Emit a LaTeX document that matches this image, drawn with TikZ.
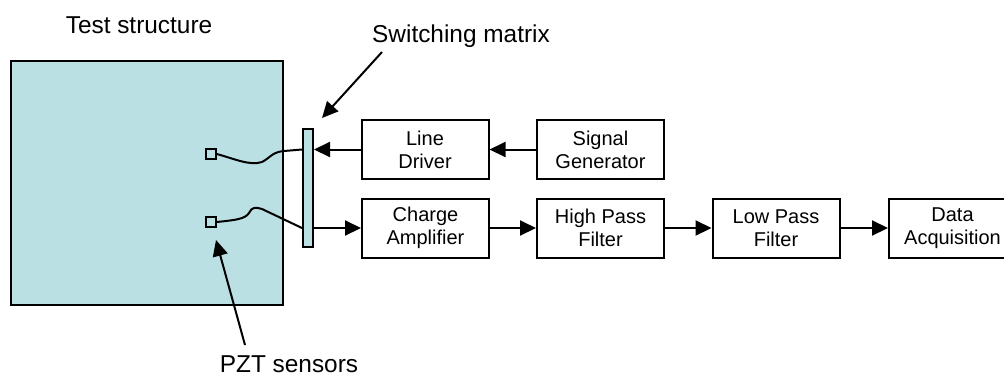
\documentclass[tikz,border=0pt]{standalone}
\usepackage{fontspec}
\setmainfont{Liberation Sans}
\usetikzlibrary{arrows.meta}
\definecolor{plate}{RGB}{187,224,227}
\begin{document}
\begin{tikzpicture}[x=0.5pt,y=-0.5pt,
  blk/.style={draw,line width=1pt,minimum width=63.5pt,minimum height=29.5pt,inner sep=0pt,align=center,font=\fontsize{10}{11.5}\selectfont},
  lbl/.style={anchor=base,inner sep=0pt,font=\fontsize{12.2}{14}\selectfont},
  conn/.style={line width=1pt,-{Triangle[length=8pt,width=7.5pt]}},
  wire/.style={line width=1pt},
  sens/.style={draw,fill=plate,line width=0.8pt,minimum size=5pt,inner sep=0pt}]
\useasboundingbox (0,0) rectangle (1004,376);
\node[draw,fill=plate,line width=1pt,minimum width=136pt,minimum height=122pt,inner sep=0pt] (plate) at (147,183) {};
\node[draw,fill=plate,line width=1pt,minimum width=5pt,minimum height=59pt,inner sep=0pt] (bar) at (308,188) {};
\node[sens] (s1) at (211,154) {};
\node[sens] (s2) at (211,222) {};
\node[blk] (ld) at (425,149.5) {Line\\Driver};
\node[blk] (sg) at (600.5,149.5) {Signal\\Generator};
\node[blk] (ca) at (425.5,228) {Charge\\Amplifier};
\node[blk] (hp) at (600.5,228) {High Pass\\Filter};
\node[blk] (lp) at (776,228) {Low Pass\\Filter};
\node[blk] (da) at (952.5,228) {Data\\Acquisition};
\node[lbl] (tl) at (139,33) {Test structure};
\node[lbl] (sl) at (461,42) {Switching matrix};
\node[lbl] (pl) at (289,372) {PZT sensors};
\coordinate (smA) at (382,52);
\coordinate (smB) at (322,118);
\coordinate (pzA) at (245,345);
\coordinate (pzB) at (216,240);
\draw[conn] (smA) -- (smB);
\draw[conn] (pzA) -- (pzB);
\draw[conn] (sg.west) -- (ld.east);
\draw[conn] (ld.west) -- (bar.east |- ld.west);
\draw[conn] (bar.east |- ca.west) -- (ca.west);
\draw[conn] (ca.east) -- (hp.west);
\draw[conn] (hp.east) -- (lp.west);
\draw[conn] (lp.east) -- (da.west);
\draw[wire] (s1.east) .. controls (235,159) and (250,166) .. (262,162) .. controls (270,158) and (272,152) .. (284,151) -- (bar.west |- ld.west);
\draw[wire] (s2.east) .. controls (236,220) and (245,219) .. (249,213) .. controls (252,207) and (255,207) .. (262,209) -- (bar.west |- ca.west);
\end{tikzpicture}
\end{document}
